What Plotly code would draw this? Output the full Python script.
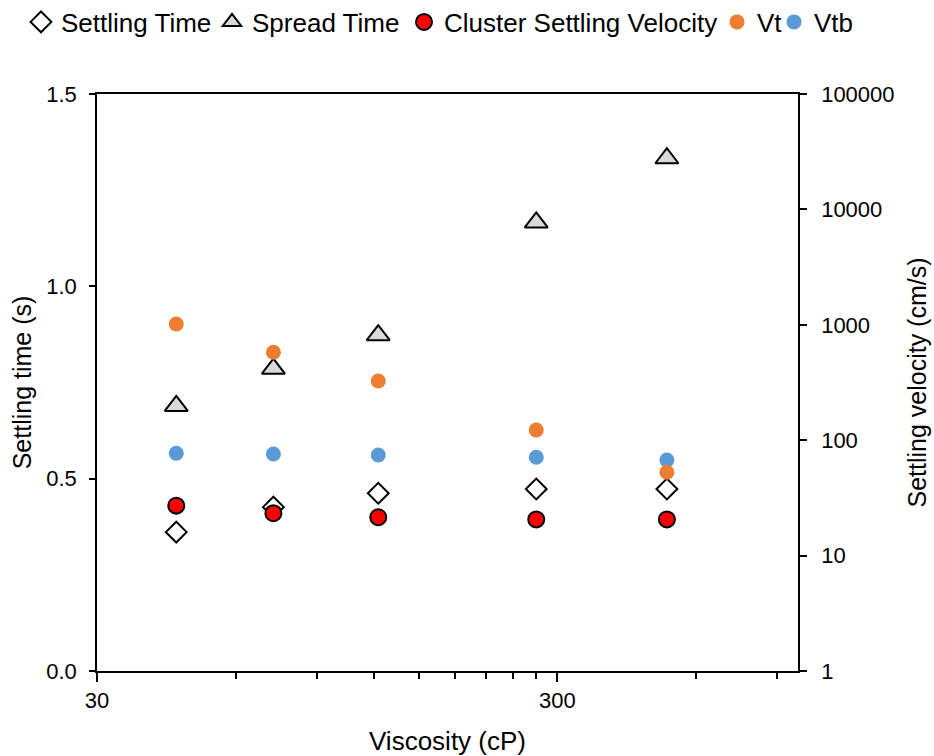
import plotly.graph_objects as go

viscosity = [44.6, 72.5, 122.5, 270, 519]
settling_time = [0.361, 0.426, 0.462, 0.473, 0.473]
spread_time = [0.689, 0.786, 0.873, 1.166, 1.333]
cluster_velocity = [27.1, 23.3, 21.5, 20.6, 20.6]
vt = [1016, 578, 326, 122.5, 52.7]
vtb = [77, 75.9, 74.4, 71.1, 67.3]

x_ticks = [30, 300]
x_minor = [60, 90, 120, 150, 180, 210, 240, 270, 600, 900]
y_ticks = [0.0, 0.5, 1.0, 1.5]
y2_ticks = [1, 10, 100, 1000, 10000, 100000]

FONT = "Liberation Sans, Arial, sans-serif"

fig = go.Figure()
fig.add_trace(go.Scatter(
    x=viscosity, y=settling_time, mode="markers", name="Settling Time",
    marker=dict(symbol="diamond", size=16, color="white", line=dict(color="black", width=2)),
    legend="legend"))
fig.add_trace(go.Scatter(
    x=viscosity, y=spread_time, mode="markers", name="Spread Time",
    marker=dict(symbol="triangle-up", size=20, color="#d9d9d9", line=dict(color="black", width=2)),
    legend="legend2"))
fig.add_trace(go.Scatter(
    x=viscosity, y=cluster_velocity, mode="markers", name="Cluster Settling Velocity",
    yaxis="y2",
    marker=dict(symbol="circle", size=16, color="#ff0000", line=dict(color="black", width=2)),
    legend="legend3"))
fig.add_trace(go.Scatter(
    x=viscosity, y=vtb, mode="markers", name="Vtb", yaxis="y2",
    marker=dict(symbol="circle", size=15, color="#5b9bd5"),
    legend="legend5"))
fig.add_trace(go.Scatter(
    x=viscosity, y=vt, mode="markers", name="Vt", yaxis="y2",
    marker=dict(symbol="circle", size=15, color="#ed7d31"),
    legend="legend4"))


def leg(xpx):
    return dict(orientation="h", x=xpx / 934, xanchor="left", xref="container",
                y=1 - 22 / 756, yanchor="middle", yref="container",
                font=dict(size=26), itemsizing="trace", itemwidth=30,
                bgcolor="rgba(0,0,0,0)", borderwidth=0)


fig.update_layout(
    width=934, height=756,
    paper_bgcolor="white", plot_bgcolor="white",
    margin=dict(l=97, r=136, t=94, b=85, autoexpand=False),
    font=dict(family=FONT, size=20, color="black"),
    showlegend=True,
    legend=leg(21), legend2=leg(212), legend3=leg(404), legend4=leg(717), legend5=leg(774),
    xaxis=dict(
        type="log", range=[1.4771213, 3.0],
        tickvals=x_ticks, ticktext=[str(v) for v in x_ticks],
        ticks="outside", ticklen=9, tickwidth=1.5, tickcolor="black",
        minor=dict(tickvals=x_minor, ticks="outside", ticklen=6, tickwidth=1.5, tickcolor="black", showgrid=False),
        showline=True, linecolor="black", linewidth=1.5, mirror=True,
        showgrid=False, zeroline=False,
        tickfont=dict(size=22),
        title=dict(text="Viscosity (cP)", font=dict(size=26), standoff=20),
    ),
    yaxis=dict(
        range=[0, 1.5], tickvals=y_ticks, ticktext=["0.0", "0.5", "1.0", "1.5"],
        ticks="outside", ticklen=6, tickwidth=1.5, tickcolor="black",
        showline=True, linecolor="black", linewidth=1.5,
        showgrid=False, zeroline=False,
        tickfont=dict(size=22), ticklabelstandoff=8,
        title=dict(text="Settling time (s)", font=dict(size=25), standoff=8),
    ),
    yaxis2=dict(
        type="log", range=[0, 5], overlaying="y", side="right",
        tickvals=y2_ticks, ticktext=[str(v) for v in y2_ticks],
        ticks="outside", ticklen=7, tickwidth=1.5, tickcolor="black",
        showline=True, linecolor="black", linewidth=1.5,
        showgrid=False, zeroline=False,
        tickfont=dict(size=22), ticklabelstandoff=10,
        title=dict(text="Settling velocity (cm/s)", font=dict(size=25), standoff=15),
    ),
)

fig.write_html("out.html", config={"displayModeBar": False},
               post_script="document.body.style.margin='0px';")
